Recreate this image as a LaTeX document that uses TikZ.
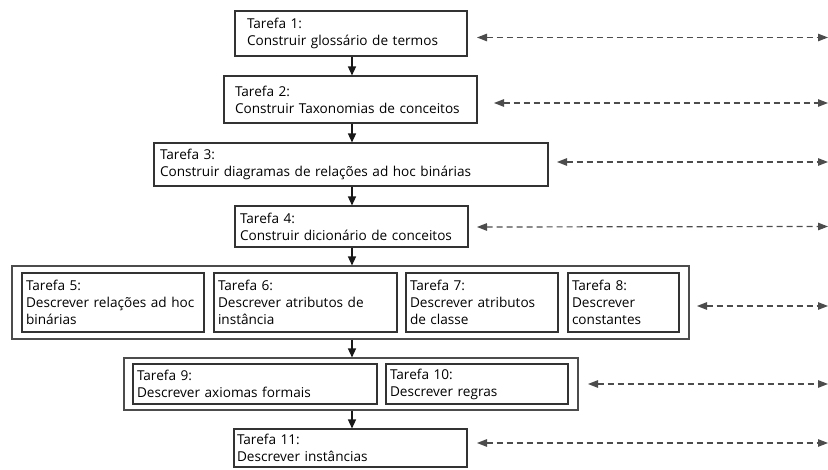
\documentclass[tikz,border=0pt]{standalone}
\usepackage{fontspec}
\setmainfont{Open Sans}
\usetikzlibrary{arrows.meta}
\begin{document}
\begin{tikzpicture}[x=1pt,y=-1pt,
  font=\fontsize{13.6}{17}\selectfont,
  task/.style={draw=black!80, line width=1.1pt, rectangle, align=left,
    inner ysep=0pt, text=black},
  group/.style={draw=black!70, line width=1.1pt, rectangle, inner sep=0pt},
  flow/.style={-{Triangle[length=9pt,width=8pt]}, line width=1.4pt, black!90},
  link/.style={{Triangle[length=10pt,width=7.5pt]}-{Triangle[length=10pt,width=7.5pt]},
    dash pattern=on 6pt off 4pt, line width=1.2pt, black!70}]
\useasboundingbox (0,0) rectangle (828,470);

% sequential tasks
\node[task, minimum width=232, minimum height=45, text width=208, inner xsep=12]
  (t1) at (351,33.5) {Tarefa 1:\\Construir glossário de termos};
\node[task, minimum width=253, minimum height=47, text width=231, inner xsep=11]
  (t2) at (350.5,99.5) {Tarefa 2:\\Construir Taxonomias de conceitos};
\node[task, minimum width=394, minimum height=43, text width=382, inner xsep=6]
  (t3) at (351,164.5) {Tarefa 3:\\Construir diagramas de relações ad hoc binárias};
\node[task, minimum width=233, minimum height=41, text width=223, inner xsep=5]
  (t4) at (351.5,226.5) {Tarefa 4:\\Construir dicionário de conceitos};

% group of tasks 5-8
\node[group, minimum width=677, minimum height=73] (g1) at (350.5,302.5) {};
\node[task, minimum width=182, minimum height=59, text width=174, inner xsep=4]
  (t5) at (113,302.5) {Tarefa 5:\\Descrever relações ad hoc\\binárias};
\node[task, minimum width=183, minimum height=59, text width=175, inner xsep=4]
  (t6) at (305.5,302.5) {Tarefa 6:\\Descrever atributos de\\instância};
\node[task, minimum width=152, minimum height=59, text width=144, inner xsep=4]
  (t7) at (482,302.5) {Tarefa 7:\\Descrever atributos\\de classe};
\node[task, minimum width=111, minimum height=59, text width=103, inner xsep=4]
  (t8) at (623.5,302.5) {Tarefa 8:\\Descrever\\constantes};

% group of tasks 9-10
\node[group, minimum width=454, minimum height=52] (g2) at (351,384) {};
\node[task, minimum width=244, minimum height=40, text width=236, inner xsep=4]
  (t9) at (255,384) {Tarefa 9:\\Descrever axiomas formais};
\node[task, minimum width=182, minimum height=40, text width=174, inner xsep=4]
  (t10) at (477,384) {Tarefa 10:\\Descrever regras};

\node[task, minimum width=233, minimum height=38, text width=227, inner xsep=3]
  (t11) at (350.5,448) {Tarefa 11:\\Descrever instâncias};

% main flow
\coordinate (vx) at (352,0);
\draw[flow] (t1.south -| vx) -- (t2.north -| vx);
\draw[flow] (t2.south -| vx) -- (t3.north -| vx);
\draw[flow] (t3.south -| vx) -- (t4.north -| vx);
\draw[flow] (t4.south -| vx) -- (g1.north -| vx);
\draw[flow] (g1.south -| vx) -- (g2.north -| vx);
\draw[flow] (g2.south -| vx) -- (t11.north -| vx);

% side links
\coordinate (a1) at (477,37.5);  \coordinate (b1) at (828,37.5);
\coordinate (a2) at (494,103);   \coordinate (b2) at (828,103);
\coordinate (a3) at (557,162);   \coordinate (b3) at (828,162);
\coordinate (a4) at (477,227);   \coordinate (b4) at (828,226.5);
\coordinate (a5) at (697,306);   \coordinate (b5) at (828,306);
\coordinate (a6) at (588,384);   \coordinate (b6) at (828,384);
\coordinate (a7) at (477,443);   \coordinate (b7) at (828,443);
\foreach \i in {1,...,7} \draw[link] (a\i) -- (b\i);
\end{tikzpicture}
\end{document}
